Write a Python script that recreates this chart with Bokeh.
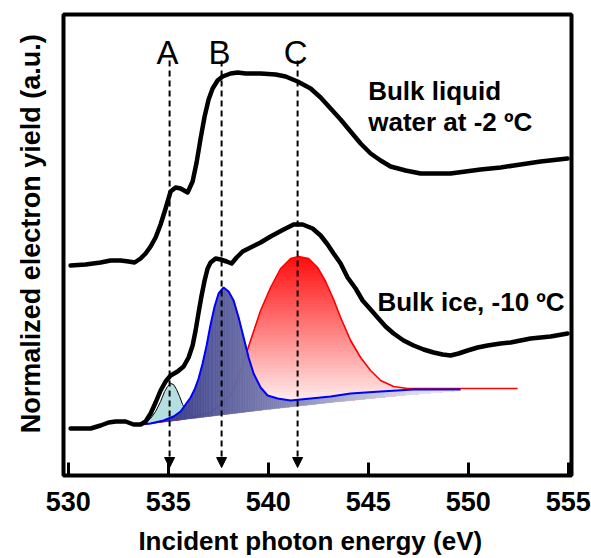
import numpy as np
from bokeh.plotting import figure
from bokeh.models import Range1d, FixedTicker, Arrow, NormalHead
from bokeh.core.properties import value
from bokeh.embed import file_html
from bokeh.resources import INLINE

FONT = "Liberation Sans"
NB = "\u00a0"

# ---------------- data ----------------
tick_vals = [530, 535, 540, 545, 550, 555]
tick_labels = ["530", "535", "540", "545", "550", "555"]

# Bulk liquid water (upper spectrum)
liq_x = [530.12, 530.87, 531.62, 532.12, 532.62, 533.02, 533.32, 533.62, 533.87, 534.12,
         534.37, 534.62, 534.87, 535.12, 535.37, 535.62, 535.97, 536.22, 536.42, 536.62,
         536.82, 537.02, 537.22, 537.47, 537.72, 538.12, 538.47, 538.87, 539.62, 540.37,
         540.87, 541.47, 542.12, 542.62, 543.12, 543.62, 544.12, 544.62, 545.12, 545.62,
         546.12, 546.87, 547.62, 548.37, 549.12, 549.87, 550.62, 551.62, 552.62, 553.62, 554.97]
liq_y = [2.10, 2.11, 2.13, 2.15, 2.15, 2.14, 2.13, 2.17, 2.22, 2.29,
         2.38, 2.51, 2.67, 2.84, 2.88, 2.87, 2.83, 2.94, 3.13, 3.37,
         3.59, 3.76, 3.87, 3.95, 3.99, 4.02, 4.03, 4.02, 4.02, 4.01,
         3.99, 3.94, 3.87, 3.78, 3.67, 3.56, 3.44, 3.32, 3.22, 3.15,
         3.09, 3.05, 3.02, 3.02, 3.02, 3.04, 3.06, 3.08, 3.11, 3.14, 3.17]

# Bulk ice (lower spectrum)
ice_x = [530.12, 531.12, 531.62, 532.02, 532.37, 532.87, 533.27, 533.62, 533.87, 534.12,
         534.37, 534.62, 534.87, 535.12, 535.47, 535.77, 536.02, 536.22, 536.37, 536.52,
         536.67, 536.82, 536.97, 537.12, 537.37, 537.62, 537.92, 538.17, 538.42, 538.72,
         539.12, 539.62, 540.12, 540.77, 541.27, 541.72, 542.22, 542.62, 542.97, 543.27,
         543.62, 543.97, 544.37, 544.72, 545.12, 545.47, 545.87, 546.27, 546.77, 547.27,
         547.77, 548.27, 548.72, 549.12, 549.52, 549.97, 550.47, 550.97, 551.62, 552.12,
         553.12, 554.12, 554.97]
ice_y = [0.47, 0.47, 0.50, 0.53, 0.54, 0.54, 0.51, 0.51, 0.54, 0.62,
         0.73, 0.85, 0.94, 1.00, 1.04, 1.09, 1.18, 1.30, 1.45, 1.63,
         1.80, 1.95, 2.07, 2.13, 2.17, 2.16, 2.14, 2.12, 2.18, 2.24,
         2.28, 2.33, 2.39, 2.46, 2.51, 2.51, 2.47, 2.40, 2.31, 2.22,
         2.12, 1.98, 1.87, 1.75, 1.66, 1.58, 1.49, 1.42, 1.35, 1.30,
         1.26, 1.23, 1.21, 1.20, 1.22, 1.25, 1.28, 1.30, 1.32, 1.33,
         1.37, 1.39, 1.42]

# fit background (lower edge of the fitted peaks)
base_x = [533.62, 536.6, 539.9, 543.1, 546.6, 549.62]
base_y = [0.51, 0.58, 0.66, 0.73, 0.80, 0.85]

# peak A (cyan)
pkA_x = [533.62, 533.87, 534.12, 534.37, 534.62, 534.82, 534.97, 535.12, 535.27, 535.42,
         535.57, 535.72, 535.92, 536.22, 536.52]
pkA_y = [0.51, 0.53, 0.57, 0.64, 0.74, 0.84, 0.89, 0.92, 0.91, 0.86,
         0.79, 0.71, 0.64, 0.59, 0.58]

# peak B (blue) incl. background step
pkB_x = [533.62, 534.12, 534.77, 535.27, 535.62, 535.87, 536.12, 536.32, 536.52, 536.72,
         536.92, 537.12, 537.32, 537.52, 537.77, 538.02, 538.27, 538.52, 538.77, 539.02,
         539.27, 539.62, 539.97, 540.47, 541.12, 542.12, 543.12, 544.12, 545.62, 547.27, 549.62]
pkB_y = [0.51, 0.52, 0.55, 0.59, 0.64, 0.71, 0.78, 0.86, 0.97, 1.12,
         1.30, 1.51, 1.69, 1.82, 1.88, 1.84, 1.75, 1.58, 1.38, 1.18,
         1.02, 0.88, 0.80, 0.77, 0.75, 0.77, 0.79, 0.82, 0.84, 0.86, 0.86]

# peak C (red)
pkC_x = [533.62, 535.62, 537.12, 538.12, 538.62, 539.12, 539.62, 540.12, 540.62, 541.12,
         541.52, 542.02, 542.47, 542.87, 543.27, 543.62, 544.12, 544.62, 545.12, 545.62,
         546.27, 546.97, 548.12, 549.62, 552.47]
pkC_y = [0.51, 0.56, 0.63, 0.80, 1.05, 1.35, 1.65, 1.88, 2.07, 2.17,
         2.19, 2.17, 2.08, 1.94, 1.76, 1.58, 1.35, 1.18, 1.05, 0.95,
         0.89, 0.87, 0.87, 0.87, 0.87]

arrow_x = [535.07, 537.67, 541.47]
arrow_letters = ["A", "B", "C"]

annot_text = ["Bulk liquid", "water at -2 \u00baC", "Bulk ice, -10 \u00baC"]
annot_x = [545.0, 545.0, 545.46]
annot_y = [3.85, 3.54, 1.74]

x_title = "Incident photon energy (eV)"
y_title = "Normalized electron yield  (a.u.)"


def densify(x, y, step):
    """Split the straight segments of a polyline (same shape) for gradient rendering."""
    xs, ys = [x[0]], [y[0]]
    for i in range(len(x) - 1):
        n = max(1, int(np.ceil((x[i + 1] - x[i]) / step)))
        for k in range(1, n + 1):
            f = k / n
            xs.append(x[i] + f * (x[i + 1] - x[i]))
            ys.append(y[i] + f * (y[i + 1] - y[i]))
    return np.array(xs), np.array(ys)


def hexcol(r, g, b):
    return "#%02x%02x%02x" % (int(round(r)), int(round(g)), int(round(b)))


p = figure(width=591, height=558,
           x_range=Range1d(529.765, 555.165), y_range=Range1d(0, 4.61),
           output_backend="svg", toolbar_location=None,
           min_border_left=63, min_border_right=20, min_border_top=14, min_border_bottom=83)
p.grid.visible = False
p.background_fill_color = "white"
p.border_fill_color = "white"
p.outline_line_color = "black"
p.outline_line_width = 4

xa = p.xaxis[0]
xa.ticker = FixedTicker(ticks=tick_vals, minor_ticks=[])
xa.major_label_overrides = {v: s for v, s in zip(tick_vals, tick_labels)}
xa.axis_line_color = None
xa.major_tick_in = 13
xa.major_tick_out = 0
xa.major_tick_line_width = 3
xa.major_tick_line_color = "black"
xa.minor_tick_line_color = None
xa.major_label_standoff = 16
xa.major_label_text_font = FONT
xa.major_label_text_font_style = "bold"
xa.major_label_text_font_size = "27px"
xa.major_label_text_color = "black"
xa.axis_label = x_title + NB * 2
xa.axis_label_standoff = 12
xa.axis_label_text_font = FONT
xa.axis_label_text_font_style = "bold"
xa.axis_label_text_font_size = "26px"
xa.axis_label_text_color = "black"

ya = p.yaxis[0]
ya.ticker = FixedTicker(ticks=[], minor_ticks=[])
ya.axis_line_color = None
ya.major_tick_line_color = None
ya.minor_tick_line_color = None
ya.major_tick_in = 0
ya.major_tick_out = 0
ya.major_label_standoff = 0
ya.axis_label = NB * 4 + y_title
ya.axis_label_standoff = 18
ya.axis_label_text_font = FONT
ya.axis_label_text_font_style = "bold"
ya.axis_label_text_font_size = "27px"
ya.axis_label_text_color = "black"

# ---------- red peak (vertical gradient) ----------
nC = pkC_x.index(549.62) + 1
rx, ry = densify(pkC_x[:nC], pkC_y[:nC], 0.05)
rb = np.interp(rx, base_x, base_y)
top_lvl = ry.max()
levels = np.linspace(top_lvl, 0.70, 45)
r_xs, r_ys, r_cols = [], [], []
for t in levels:
    f = (top_lvl - t) / (top_lvl - 0.70)
    upper = np.maximum(rb, np.minimum(ry, t))
    r_xs.append(np.concatenate([rx, rx[::-1]]).tolist())
    r_ys.append(np.concatenate([upper, rb[::-1]]).tolist())
    r_cols.append(hexcol(255, 15 + f * 232, 15 + f * 232))
p.patches(r_xs, r_ys, fill_color=r_cols, line_color=None)
p.line(pkC_x, pkC_y, line_color="#ff0000", line_width=1.6)

# ---------- cyan peak ----------
p.patch(pkA_x, pkA_y, fill_color="#b4dfe0", line_color=None)
p.line(pkA_x, pkA_y, line_color="black", line_width=1)

# ---------- blue peak (horizontal gradient) ----------
bx, by = densify(pkB_x, pkB_y, 0.1)
bb = np.interp(bx, base_x, base_y)
c0 = np.array([38, 43, 125])
c1 = np.array([248, 248, 252])
b_xs, b_ys, b_cols = [], [], []
for i in range(len(bx) - 1):
    f = ((bx[i] + bx[i + 1]) / 2 - bx[0]) / (bx[-1] - bx[0])
    c = c0 + f * (c1 - c0)
    b_xs.append([bx[i], bx[i], bx[i + 1], bx[i + 1]])
    b_ys.append([bb[i], by[i], by[i + 1], bb[i + 1]])
    b_cols.append(hexcol(*c))
p.patches(b_xs, b_ys, fill_color=b_cols, line_color=b_cols, line_width=0.6)
p.line(pkB_x, pkB_y, line_color="#0000ff", line_width=2)

# ---------- spectra ----------
p.line(liq_x, liq_y, line_color="black", line_width=4.5, line_join="round", line_cap="round")
p.line(ice_x, ice_y, line_color="black", line_width=4.5, line_join="round", line_cap="round")

# ---------- dashed arrows and letters ----------
for ax in arrow_x:
    p.add_layout(Arrow(end=NormalHead(size=10, fill_color="black", line_color="black", line_width=1),
                       x_start=ax, y_start=4.15, x_end=ax, y_end=0.08,
                       line_color="black", line_width=2, line_dash="6 4"))
p.text(x=arrow_x, y=[4.23] * len(arrow_x), text=arrow_letters, x_offset=-2,
       text_align="center", text_baseline="alphabetic",
       text_font=value(FONT), text_font_size="33px", text_color="black")

p.text(x=annot_x, y=annot_y, text=annot_text, text_align="left", text_baseline="alphabetic",
       text_font=value(FONT), text_font_style="bold", text_font_size="26px", text_color="black")

open("out.html", "w").write(file_html(p, INLINE))
